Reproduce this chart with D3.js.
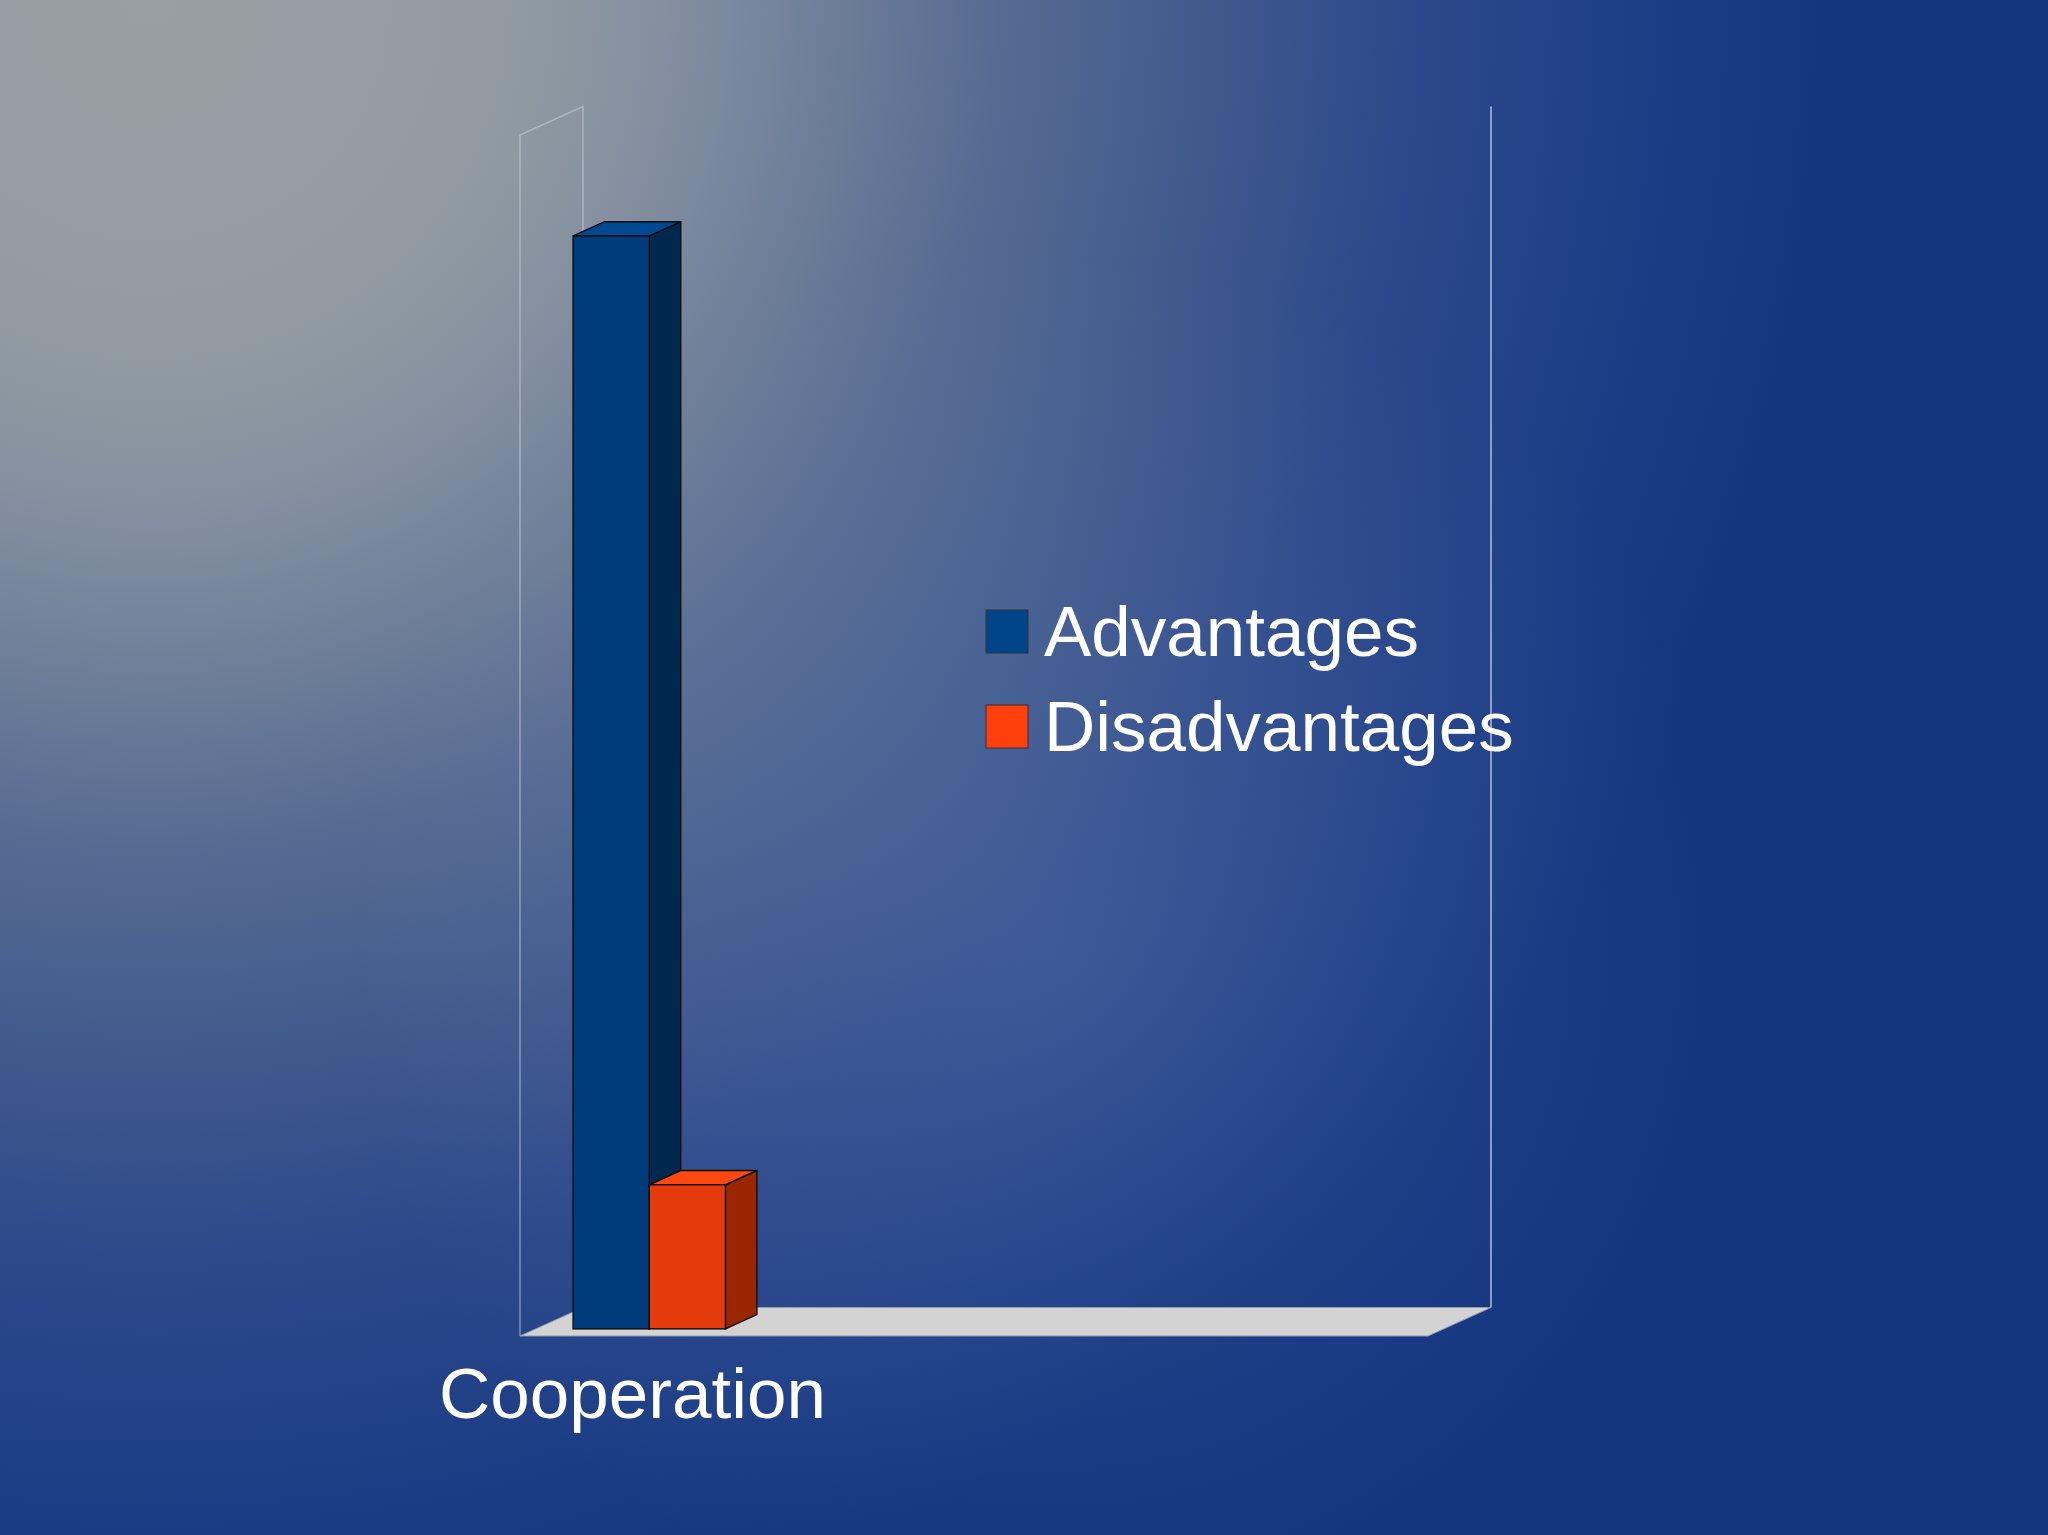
<!DOCTYPE html>
<html>
<head>
<meta charset="utf-8">
<script src="https://cdn.jsdelivr.net/npm/d3@7"></script>
<style>
  html, body { margin: 0; padding: 0; background: #13347f; }
  svg { display: block; }
</style>
</head>
<body>
<svg id="chart" width="2048" height="1535"></svg>
<script>
// ---- data ----
const categories = ["Cooperation", "", "", ""];
const seriesNames = ["Advantages", "Disadvantages"];
const advantages = [91, null, null, null];
const disadvantages = [12, null, null, null];
const valueDomain = [0, 100];

const W = 2048, H = 1535;
const svg = d3.select("#chart");
const defs = svg.append("defs");

// background
const bg = defs.append("radialGradient").attr("id", "bg")
  .attr("gradientUnits", "userSpaceOnUse")
  .attr("cx", 150).attr("cy", 0).attr("r", 1700);
[[0, "#98a0a3"], [0.2, "#939ca2"], [0.3, "#8490a0"], [0.4, "#6e7e99"],
 [0.5, "#566b92"], [0.6, "#445d8d"], [0.75, "#2b488a"], [0.9, "#1b3c85"], [1, "#13347f"]]
  .forEach(([o, c]) => bg.append("stop").attr("offset", o).attr("stop-color", c));
const glow = defs.append("radialGradient").attr("id", "glow")
  .attr("gradientUnits", "userSpaceOnUse")
  .attr("cx", 1050).attr("cy", 950).attr("r", 700);
glow.append("stop").attr("offset", 0).attr("stop-color", "#b0c0e0").attr("stop-opacity", 0.16);
glow.append("stop").attr("offset", 1).attr("stop-color", "#b0c0e0").attr("stop-opacity", 0);

svg.append("rect").attr("width", W).attr("height", H).attr("fill", "url(#bg)");
svg.append("rect").attr("width", W).attr("height", H).attr("fill", "url(#glow)");

// geometry of the 3D box
const plotLeft = 520, plotRight = 1428, floorY = 1336, topY = 135;
const depthDX = 63, depthDY = -28.5;

const x = d3.scaleBand().domain(d3.range(categories.length)).range([plotLeft, plotRight]);
const xInner = d3.scaleBand().domain(seriesNames).range([0, x.bandwidth()]).paddingOuter(0.49).paddingInner(0);
const y = d3.scaleLinear().domain(valueDomain).range([floorY, topY]);

const off = t => [depthDX * t, depthDY * t];
const pts = arr => arr.map(p => p.join(",")).join(" ");

const g = svg.append("g");

// floor
const [bdx, bdy] = off(1);
g.append("polygon")
  .attr("points", pts([[plotLeft, floorY], [plotRight, floorY], [plotRight + bdx, floorY + bdy], [plotLeft + bdx, floorY + bdy]]))
  .attr("fill", "#d3d3d3").attr("stroke", "#8f9bb3").attr("stroke-width", 1);

// left (side) wall outline
g.append("path")
  .attr("d", `M${plotLeft},${floorY} L${plotLeft},${y(valueDomain[1])} L${plotLeft + bdx},${y(valueDomain[1]) + bdy} L${plotLeft + bdx},${floorY + bdy}`)
  .attr("fill", "none").attr("stroke", "rgba(200,208,222,0.55)").attr("stroke-width", 1.5);
// right back wall edge
g.append("line")
  .attr("x1", plotRight + bdx).attr("x2", plotRight + bdx)
  .attr("y1", y(valueDomain[1]) + bdy).attr("y2", floorY + bdy)
  .attr("stroke", "rgba(190,200,218,0.7)").attr("stroke-width", 2);

// bars
const colors = {
  Advantages: { front: "#003b7c", side: "#00284f", top: "#00488f", legend: "#00458a" },
  Disadvantages: { front: "#e53a0b", side: "#992600", top: "#ff4711", legend: "#ff3f0c" }
};
const seriesData = [
  { name: "Advantages", values: advantages },
  { name: "Disadvantages", values: disadvantages }
];
const barFront = 0.25, barBack = 0.75;

seriesData.forEach(s => {
  s.values.forEach((v, i) => {
    if (v == null) return;
    const [fx, fy] = off(barFront);
    const [kx, ky] = off(barBack);
    const x0 = x(i) + xInner(s.name) + fx;
    const x1 = x0 + xInner.bandwidth();
    const yb = y(0) + fy;
    const yt = y(v) + fy;
    const dx = kx - fx, dy = ky - fy;
    const c = colors[s.name];
    const bar = g.append("g");
    bar.append("polygon").attr("points", pts([[x1, yb], [x1, yt], [x1 + dx, yt + dy], [x1 + dx, yb + dy]]))
      .attr("fill", c.side).attr("stroke", "#0d0d0d").attr("stroke-width", 1.4);
    bar.append("polygon").attr("points", pts([[x0, yt], [x1, yt], [x1 + dx, yt + dy], [x0 + dx, yt + dy]]))
      .attr("fill", c.top).attr("stroke", "#0d0d0d").attr("stroke-width", 1.4);
    bar.append("rect").attr("x", x0).attr("y", yt).attr("width", x1 - x0).attr("height", yb - yt)
      .attr("fill", c.front).attr("stroke", "#0d0d0d").attr("stroke-width", 1.4);
  });
});

// category labels
svg.append("g").selectAll("text").data(categories).join("text")
  .attr("x", (d, i) => x(i) + x.bandwidth() / 2 - 1)
  .attr("y", 1418)
  .attr("text-anchor", "middle")
  .attr("font-family", "'Liberation Sans', Arial, sans-serif")
  .attr("font-size", 71)
  .attr("fill", "#ffffff")
  .text(d => d);

// legend
const legend = svg.append("g").attr("transform", "translate(986,610)");
const legItems = legend.selectAll("g").data(seriesNames).join("g")
  .attr("transform", (d, i) => `translate(0,${i * 95})`);
legItems.append("rect").attr("width", 42).attr("height", 43)
  .attr("fill", d => colors[d].legend)
  .attr("stroke", "#333").attr("stroke-width", 1);
legItems.append("text").attr("x", 58).attr("y", 46)
  .attr("font-family", "'Liberation Sans', Arial, sans-serif")
  .attr("font-size", 71)
  .attr("fill", "#ffffff")
  .text(d => d);
</script>
</body>
</html>
